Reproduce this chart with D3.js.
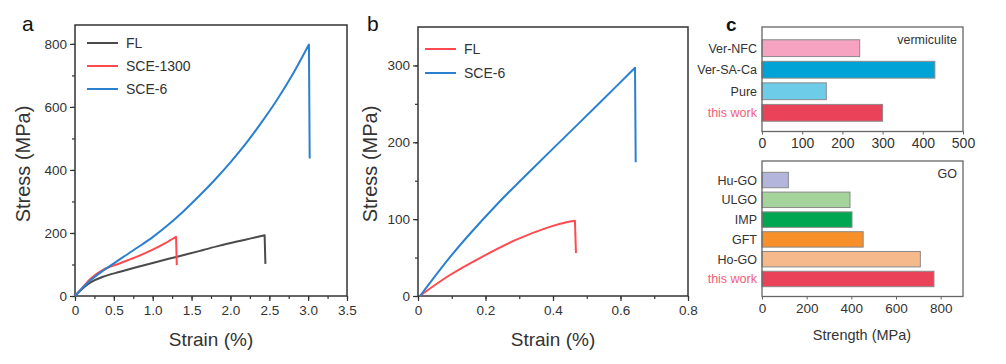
<!DOCTYPE html>
<html><head><meta charset="utf-8">
<script src="https://cdn.jsdelivr.net/npm/d3@7/dist/d3.min.js"></script>
<style>
body{margin:0;background:#fff;}
svg{display:block;font-family:"Liberation Sans",Arial,sans-serif;}
</style></head>
<body>
<svg id="chart" width="1006" height="364"></svg>
<script>
// ---------- DATA ----------
// Panel a: stress-strain (strain %, stress MPa); last point = stress after fracture drop
const aFL      = [[0,0],[0.1,24],[0.2,43],[0.36,61],[0.58,77],[0.8,92],[1.0,105],[1.22,119],[1.45,133],[1.65,146],[1.85,159],[2.07,172],[2.25,182],[2.44,193],[2.45,102]];
const aSCE1300 = [[0,0],[0.1,28],[0.2,55],[0.36,83],[0.58,104],[0.8,125],[1.0,147],[1.15,166],[1.30,188],[1.31,98]];
const aSCE6    = [[0,0],[0.1,26],[0.2,50],[0.36,80],[0.58,117],[0.8,153],[1.0,187],[1.2,226],[1.4,270],[1.6,318],[1.8,369],[2.0,424],[2.2,484],[2.4,551],[2.6,623],[2.8,703],[3.01,798],[3.02,436]];
const aXTicks = [0,0.5,1.0,1.5,2.0,2.5,3.0,3.5];
const aYTicks = [0,200,400,600,800];
// Panel b
const bFL   = [[0.005,0],[0.09,26],[0.19,51],[0.29,73],[0.39,90],[0.44,96],[0.465,98],[0.468,56]];
const bSCE6 = [[0.006,0],[0.09,48],[0.15,79],[0.24,122],[0.34,166],[0.44,209],[0.54,252],[0.643,297],[0.645,174]];
const bXTicks = [0,0.2,0.4,0.6,0.8];
const bYTicks = [0,100,200,300];
// Panel c
const verCats = ["Ver-NFC","Ver-SA-Ca","Pure","this work"];
const verVals = [243,430,160,300];
const verColors = ["#f5a3c0","#00a3d6","#6dcde8","#ea4359"];
const verTicks = [0,100,200,300,400,500];
const goCats = ["Hu-GO","ULGO","IMP","GFT","Ho-GO","this work"];
const goVals = [118,394,403,453,709,770];
const goColors = ["#b4b5dc","#a4d39b","#00a651","#f7902b","#f5b98b","#ea4359"];
const goTicks = [0,200,400,600,800];

// ---------- DRAW ----------
const svg = d3.select("#chart");
const axisCol = "#333";
const txtCol = "#333";

function linePanel(o){
  const g = svg.append("g");
  const x = d3.scaleLinear().domain(o.xd).range([o.x0,o.x1]);
  const y = d3.scaleLinear().domain(o.yd).range([o.y1,o.y0]);
  const xm = d3.axisBottom(x).tickValues(o.xMinor).tickSize(3).tickFormat("");
  const ym = d3.axisLeft(y).tickValues(o.yMinor).tickSize(3).tickFormat("");
  g.append("g").attr("transform",`translate(0,${o.y1})`).call(xm);
  g.append("g").attr("transform",`translate(${o.x0},0)`).call(ym);
  const xa = d3.axisBottom(x).tickValues(o.xt).tickSize(5).tickPadding(4).tickFormat(o.xf);
  const ya = d3.axisLeft(y).tickValues(o.yt).tickSize(5).tickPadding(3).tickFormat(d3.format("d"));
  g.append("g").attr("transform",`translate(0,${o.y1})`).call(xa);
  g.append("g").attr("transform",`translate(${o.x0},0)`).call(ya);
  g.selectAll(".domain").remove();
  g.selectAll(".tick line").attr("stroke",axisCol).attr("stroke-width",1.2);
  g.selectAll(".tick text").attr("fill",txtCol).style("font-size","13.5px").style("font-family","Liberation Sans, Arial, sans-serif");
  g.append("rect").attr("x",o.x0).attr("y",o.y0).attr("width",o.x1-o.x0).attr("height",o.y1-o.y0)
    .attr("fill","none").attr("stroke",axisCol).attr("stroke-width",1.5);
  const smooth = d3.line().x(d=>x(d[0])).y(d=>y(d[1])).curve(d3.curveCatmullRom.alpha(0.5));
  o.series.forEach(s=>{
    const rise = s.data.slice(0,-1);
    const drop = s.data.slice(-2);
    const d = smooth(rise) + "L" + x(drop[1][0]) + "," + y(drop[1][1]);
    g.append("path").attr("d",d).attr("fill","none")
      .attr("stroke",s.color).attr("stroke-width",2).attr("stroke-linejoin","round");
  });
  o.series.forEach((s,i)=>{
    const ly = o.legY + i*o.legStep;
    g.append("line").attr("x1",o.legX).attr("x2",o.legX+31).attr("y1",ly).attr("y2",ly)
      .attr("stroke",s.color).attr("stroke-width",2);
    g.append("text").attr("x",o.legX+39).attr("y",ly+5).text(s.name)
      .attr("fill",txtCol).style("font-size","14px");
  });
  g.append("text").attr("x",(o.x0+o.x1)/2).attr("y",346).attr("text-anchor","middle")
    .text("Strain (%)").attr("fill",txtCol).style("font-size","19px");
  g.append("text").attr("transform",`translate(${o.yTitleX},164) rotate(-90)`)
    .attr("text-anchor","middle").text("Stress (MPa)").attr("fill",txtCol).style("font-size","20px");
  g.append("text").attr("x",o.letX).attr("y",31).text(o.letter).attr("fill","#111").style("font-size","21px");
}

const minor = (a,b,s)=>d3.range(a,b+1e-9,s);

linePanel({x0:75,x1:347,y0:25,y1:296,xd:[0,3.5],yd:[0,860],xt:aXTicks,yt:aYTicks,
  xMinor:minor(0,3.5,0.25),yMinor:minor(0,800,100),xf:d=>d===0?"0":d3.format(".1f")(d),
  series:[{name:"FL",data:aFL,color:"#4a4a4a"},{name:"SCE-1300",data:aSCE1300,color:"#ff4a4f"},{name:"SCE-6",data:aSCE6,color:"#2a80cf"}],
  legX:87,legY:43,legStep:23,yTitleX:30,letter:"a",letX:22});

linePanel({x0:418,x1:688,y0:27,y1:296,xd:[0,0.8],yd:[0,350],xt:bXTicks,yt:bYTicks,
  xMinor:minor(0,0.8,0.1),yMinor:minor(0,300,50),xf:d=>d===0?"0":d3.format(".1f")(d),
  series:[{name:"FL",data:bFL,color:"#ff4a4f"},{name:"SCE-6",data:bSCE6,color:"#2a80cf"}],
  legX:425,legY:49,legStep:24,yTitleX:377,letter:"b",letX:367});

function barPanel(o){
  const g = svg.append("g");
  const x = d3.scaleLinear().domain(o.xd).range([o.x0,o.x1]);
  const y = d3.scaleBand().domain(o.cats).range(o.yr).paddingInner(0.22).paddingOuter(o.po);
  g.selectAll("rect.bar").data(o.cats).enter().append("rect")
    .attr("x",x(0)).attr("y",d=>y(d)).attr("height",y.bandwidth())
    .attr("width",(d,i)=>x(o.vals[i])-x(0))
    .attr("fill",(d,i)=>o.colors[i]).attr("stroke","#8a8a8a").attr("stroke-width",1);
  g.append("rect").attr("x",o.x0).attr("y",o.y0).attr("width",o.x1-o.x0).attr("height",o.y1-o.y0)
    .attr("fill","none").attr("stroke","#666").attr("stroke-width",1.3);
  const xa = d3.axisBottom(x).tickValues(o.ticks).tickSize(3).tickPadding(4).tickFormat(d3.format("d"));
  const ax = g.append("g").attr("transform",`translate(0,${o.y1})`).call(xa);
  ax.select(".domain").remove();
  ax.selectAll(".tick line").attr("stroke","#666");
  ax.selectAll(".tick text").attr("fill",txtCol).style("font-size",o.tickFs).style("font-family","Liberation Sans, Arial, sans-serif");
  g.selectAll("text.cat").data(o.cats).enter().append("text")
    .attr("x",o.x0-5).attr("y",d=>y(d)+y.bandwidth()/2+4.5).attr("text-anchor","end")
    .text(d=>d).attr("fill",(d,i)=>d==="this work"?"#f2607a":txtCol).style("font-size","12.5px");
  g.append("text").attr("x",o.x1-6).attr("y",o.y0+17).attr("text-anchor","end").text(o.group)
    .attr("fill",txtCol).style("font-size","12.5px");
}

barPanel({x0:762,x1:963,y0:27,y1:131.5,xd:[0,500],cats:verCats,vals:verVals,colors:verColors,
  ticks:verTicks,yr:[29,132],po:0.5,group:"vermiculite",tickFs:"14px"});
barPanel({x0:762,x1:963,y0:161,y1:296.5,xd:[0,900],cats:goCats,vals:goVals,colors:goColors,
  ticks:goTicks,yr:[163,296],po:0.47,group:"GO",tickFs:"13.5px"});

svg.append("text").attr("x",862).attr("y",340).attr("text-anchor","middle").text("Strength (MPa)")
  .attr("fill",txtCol).style("font-size","14.5px");
svg.append("text").attr("x",726).attr("y",31).text("c").attr("fill","#111")
  .style("font-size","19px").style("font-weight","bold");
</script>
</body></html>
